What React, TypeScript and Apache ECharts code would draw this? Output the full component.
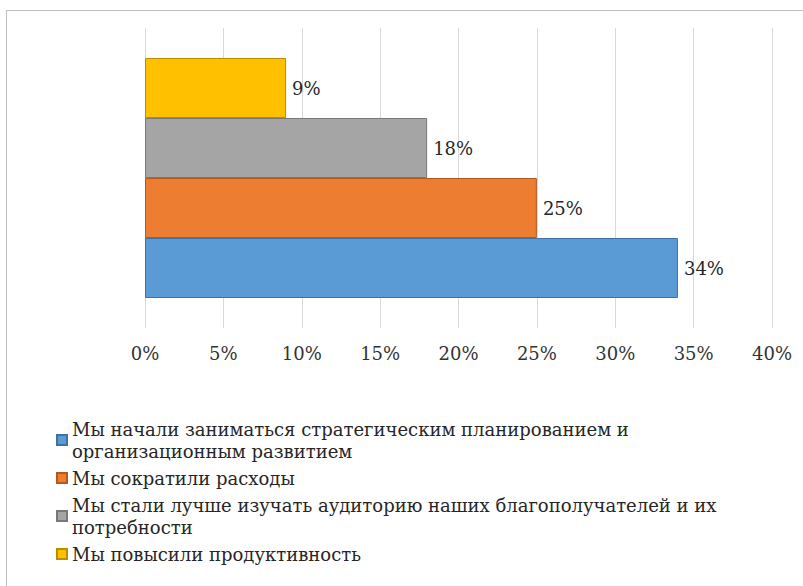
import React, { useEffect, useRef } from "react";
import * as echarts from "echarts";

const categories = ["Итоги"];
const seriesNames = [
  "Мы начали заниматься стратегическим планированием и организационным развитием",
  "Мы сократили расходы",
  "Мы стали лучше изучать аудиторию наших благополучателей и их потребности",
  "Мы повысили продуктивность",
];
const legendLines = [
  "Мы начали заниматься стратегическим планированием и\nорганизационным развитием",
  "Мы сократили расходы",
  "Мы стали лучше изучать аудиторию наших благополучателей и их\nпотребности",
  "Мы повысили продуктивность",
];
const seriesValues = [34, 25, 18, 9];
const seriesColors = ["#5B9BD5", "#ED7D31", "#A5A5A5", "#FFC000"];
const borderColors = ["#41719C", "#AE5A21", "#787878", "#BC8C00"];
const xTicks = [0, 5, 10, 15, 20, 25, 30, 35, 40];

const FONT = "DejaVu Serif";

export default function App() {
  const ref = useRef<HTMLDivElement>(null);
  useEffect(() => {
    if (!ref.current) return;
    const chart = echarts.init(ref.current, null, { renderer: "svg" });
    // top-to-bottom drawing order inside the category band
    const order = [3, 2, 1, 0];
    chart.setOption({
      animation: false,
      backgroundColor: "#ffffff",
      textStyle: { fontFamily: FONT },
      graphic: [
        {
          type: "rect",
          shape: { x: 6.5, y: 10.5, width: 900, height: 700 },
          style: { fill: "none", stroke: "#BFBFBF", lineWidth: 1 },
          silent: true,
        },
      ],
      grid: { left: 145, right: 31, top: 28, bottom: 258 },
      xAxis: {
        type: "value",
        min: xTicks[0],
        max: xTicks[xTicks.length - 1],
        interval: 5,
        axisLine: { show: false },
        axisTick: { show: false },
        splitLine: { show: true, lineStyle: { color: "#D9D9D9", width: 1 } },
        axisLabel: {
          formatter: "{value}%",
          fontFamily: FONT,
          fontSize: 18,
          color: "#333333",
          margin: 16,
        },
      },
      yAxis: {
        type: "category",
        data: categories,
        axisLine: { show: false },
        axisTick: { show: false },
        axisLabel: { show: false },
      },
      legend: {
        orient: "vertical",
        left: 51,
        top: 413,
        itemWidth: 10,
        itemHeight: 10,
        itemGap: 5,
        icon: "rect",
        data: seriesNames,
        formatter: (name: string) => legendLines[seriesNames.indexOf(name)],
        textStyle: {
          fontFamily: FONT,
          fontSize: 18,
          color: "#262626",
          lineHeight: 22,
        },
      },
      series: order.map((i) => ({
        name: seriesNames[i],
        type: "bar",
        data: [seriesValues[i]],
        barGap: "0%",
        barCategoryGap: "20%",
        itemStyle: {
          color: seriesColors[i],
          borderColor: borderColors[i],
          borderWidth: 1,
        },
        label: {
          show: true,
          position: "right",
          distance: 6,
          formatter: "{c}%",
          fontFamily: FONT,
          fontSize: 18,
          color: "#262626",
        },
      })),
    });
    return () => chart.dispose();
  }, []);
  return (
    <div
      ref={ref}
      style={{ position: "fixed", left: 0, top: 0, width: 803, height: 586 }}
    />
  );
}
